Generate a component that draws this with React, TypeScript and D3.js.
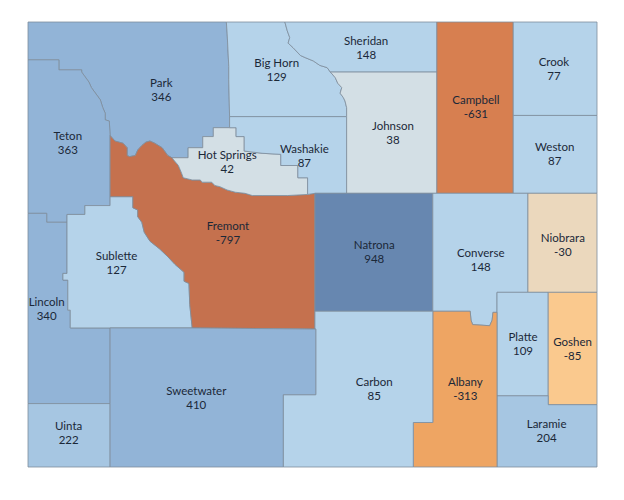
import React from 'react';
import * as d3 from 'd3';

// County names, population change values, label anchors (lon, lat)
const COUNTIES = [
  'Park', 'Teton', 'Lincoln', 'Uinta', 'Sublette', 'Fremont', 'Hot Springs', 'Washakie',
  'Big Horn', 'Sheridan', 'Johnson', 'Campbell', 'Crook', 'Weston', 'Natrona', 'Converse',
  'Niobrara', 'Platte', 'Goshen', 'Laramie', 'Albany', 'Carbon', 'Sweetwater',
];

const CHANGE = [
  346, 363, 340, 222, 127, -797, 42, 87,
  129, 148, 38, -631, 77, 87, 948, 148,
  -30, 109, -85, 204, -313, 85, 410,
];

const LABEL_AT: [number, number][] = [
  [-109.41, 44.39], [-110.56, 43.91], [-110.82, 42.42], [-110.55, 41.31], [-109.96, 42.83],
  [-108.59, 43.10], [-108.60, 43.74], [-107.65, 43.80], [-107.99, 44.57], [-106.89, 44.77],
  [-106.56, 44.00], [-105.54, 44.24], [-104.58, 44.58], [-104.57, 43.81], [-106.79, 42.93],
  [-105.48, 42.86], [-104.47, 43.00], [-104.96, 42.11], [-104.35, 42.06], [-104.67, 41.32],
  [-105.67, 41.70], [-106.79, 41.70], [-108.98, 41.62],
];

// County outlines in lon/lat, same order as COUNTIES
const OUTLINES: [number, number][][] = [
  // Park
  [[-111.05, 45.0], [-108.61, 45.0], [-108.6, 44.9], [-108.58, 44.6], [-108.58, 44.48], [-108.57, 44.15],
    [-108.57, 44.05], [-108.77, 44.05], [-108.77, 43.97], [-108.9, 43.97], [-108.9, 43.87], [-109.08, 43.87],
    [-109.08, 43.78], [-109.28, 43.78], [-109.33, 43.8], [-109.4, 43.87], [-109.49, 43.91], [-109.55, 43.93],
    [-109.6, 43.92], [-109.65, 43.89], [-109.7, 43.85], [-109.73, 43.8], [-109.8, 43.79], [-109.83, 43.8],
    [-109.83, 43.87], [-109.88, 43.91], [-109.98, 43.93], [-110.04, 43.98], [-110.05, 44.11], [-110.1, 44.12],
    [-110.1, 44.18], [-110.13, 44.23], [-110.16, 44.3], [-110.27, 44.41], [-110.3, 44.46], [-110.39, 44.55],
    [-110.39, 44.57], [-110.67, 44.57], [-110.67, 44.66], [-111.05, 44.66]],
  // Teton
  [[-111.05, 44.66], [-110.67, 44.66], [-110.67, 44.57], [-110.39, 44.57], [-110.39, 44.55], [-110.3, 44.46],
    [-110.27, 44.41], [-110.16, 44.3], [-110.13, 44.23], [-110.1, 44.18], [-110.1, 44.12], [-110.05, 44.11],
    [-110.04, 43.98], [-110.04, 43.43], [-110.04, 43.35], [-110.35, 43.35], [-110.35, 43.27], [-110.57, 43.27],
    [-110.57, 43.2], [-110.82, 43.2], [-110.82, 43.28], [-111.05, 43.28]],
  // Lincoln
  [[-111.05, 43.28], [-110.82, 43.28], [-110.82, 43.2], [-110.57, 43.2], [-110.57, 42.74], [-110.62, 42.74],
    [-110.62, 42.68], [-110.56, 42.68], [-110.56, 42.41], [-110.53, 42.41], [-110.53, 42.25], [-110.04, 42.25],
    [-110.04, 41.57], [-111.05, 41.57]],
  // Uinta
  [[-111.05, 41.57], [-110.04, 41.57], [-110.04, 41.0], [-111.05, 41.0]],
  // Sublette
  [[-110.57, 43.27], [-110.35, 43.27], [-110.35, 43.35], [-110.04, 43.35], [-110.04, 43.43], [-109.76, 43.43],
    [-109.76, 43.33], [-109.7, 43.31], [-109.7, 43.25], [-109.65, 43.2], [-109.62, 43.11], [-109.55, 43.03],
    [-109.43, 42.96], [-109.33, 42.89], [-109.24, 42.82], [-109.13, 42.75], [-109.13, 42.67], [-109.07, 42.65],
    [-109.06, 42.46], [-109.03, 42.25], [-110.04, 42.25], [-110.53, 42.25], [-110.53, 42.41], [-110.56, 42.41],
    [-110.56, 42.68], [-110.62, 42.68], [-110.62, 42.74], [-110.57, 42.74]],
  // Fremont
  [[-110.04, 43.98], [-109.98, 43.93], [-109.88, 43.91], [-109.83, 43.87], [-109.83, 43.8], [-109.8, 43.79],
    [-109.73, 43.8], [-109.7, 43.85], [-109.65, 43.89], [-109.6, 43.92], [-109.55, 43.93], [-109.49, 43.91],
    [-109.4, 43.87], [-109.33, 43.8], [-109.28, 43.78], [-109.2, 43.71], [-109.16, 43.64], [-109.14, 43.6],
    [-109.03, 43.58], [-108.93, 43.58], [-108.91, 43.56], [-108.79, 43.56], [-108.75, 43.53], [-108.69, 43.52],
    [-108.6, 43.49], [-108.5, 43.47], [-108.38, 43.46], [-108.29, 43.44], [-108.16, 43.44], [-107.86, 43.44],
    [-107.61, 43.45], [-107.52, 43.46], [-107.52, 42.24], [-109.03, 42.25], [-109.06, 42.46], [-109.07, 42.65],
    [-109.13, 42.67], [-109.13, 42.75], [-109.24, 42.82], [-109.33, 42.89], [-109.43, 42.96], [-109.55, 43.03],
    [-109.62, 43.11], [-109.65, 43.2], [-109.7, 43.25], [-109.7, 43.31], [-109.76, 43.33], [-109.76, 43.43],
    [-110.04, 43.43]],
  // Hot Springs
  [[-109.28, 43.78], [-109.08, 43.78], [-109.08, 43.87], [-108.9, 43.87], [-108.9, 43.97], [-108.77, 43.97],
    [-108.77, 44.05], [-108.57, 44.05], [-108.49, 44.05], [-108.49, 43.97], [-108.39, 43.97], [-108.39, 43.84],
    [-108.17, 43.82], [-107.94, 43.81], [-107.94, 43.71], [-107.73, 43.71], [-107.73, 43.6], [-107.61, 43.6],
    [-107.61, 43.45], [-107.86, 43.44], [-108.16, 43.44], [-108.29, 43.44], [-108.38, 43.46], [-108.5, 43.47],
    [-108.6, 43.49], [-108.69, 43.52], [-108.75, 43.53], [-108.79, 43.56], [-108.91, 43.56], [-108.93, 43.58],
    [-109.03, 43.58], [-109.14, 43.6], [-109.16, 43.64], [-109.2, 43.71]],
  // Washakie
  [[-108.57, 44.15], [-107.13, 44.15], [-107.13, 43.46], [-107.52, 43.46], [-107.61, 43.45], [-107.61, 43.6],
    [-107.73, 43.6], [-107.73, 43.71], [-107.94, 43.71], [-107.94, 43.81], [-108.17, 43.82], [-108.39, 43.84],
    [-108.39, 43.97], [-108.49, 43.97], [-108.49, 44.05], [-108.57, 44.05]],
  // Big Horn
  [[-108.61, 45.0], [-107.89, 45.0], [-107.86, 44.92], [-107.83, 44.86], [-107.85, 44.81], [-107.79, 44.77],
    [-107.7, 44.7], [-107.64, 44.68], [-107.54, 44.65], [-107.46, 44.61], [-107.37, 44.59], [-107.33, 44.55],
    [-107.27, 44.5], [-107.24, 44.45], [-107.19, 44.41], [-107.21, 44.36], [-107.17, 44.32], [-107.15, 44.29],
    [-107.13, 44.23], [-107.13, 44.15], [-108.57, 44.15], [-108.58, 44.48], [-108.58, 44.6], [-108.6, 44.9]],
  // Sheridan
  [[-107.89, 45.0], [-106.02, 45.0], [-106.02, 44.55], [-107.33, 44.55], [-107.37, 44.59], [-107.46, 44.61],
    [-107.54, 44.65], [-107.64, 44.68], [-107.7, 44.7], [-107.79, 44.77], [-107.85, 44.81], [-107.83, 44.86],
    [-107.86, 44.92]],
  // Johnson
  [[-107.33, 44.55], [-106.02, 44.55], [-106.02, 43.46], [-107.13, 43.46], [-107.13, 44.15], [-107.13, 44.23],
    [-107.15, 44.29], [-107.17, 44.32], [-107.21, 44.36], [-107.19, 44.41], [-107.24, 44.45], [-107.27, 44.5]],
  // Campbell
  [[-106.02, 45.0], [-105.08, 45.0], [-105.08, 43.46], [-106.02, 43.46]],
  // Crook
  [[-105.08, 45.0], [-104.05, 45.0], [-104.05, 44.16], [-105.08, 44.16]],
  // Weston
  [[-105.08, 44.16], [-104.05, 44.16], [-104.05, 43.46], [-105.08, 43.46]],
  // Natrona
  [[-107.52, 43.46], [-106.07, 43.46], [-106.07, 42.4], [-107.52, 42.4]],
  // Converse
  [[-106.07, 43.46], [-104.9, 43.46], [-104.9, 42.57], [-105.28, 42.57], [-105.28, 42.39], [-105.33, 42.39],
    [-105.34, 42.32], [-105.37, 42.27], [-105.58, 42.28], [-105.6, 42.32], [-105.61, 42.4], [-106.07, 42.4]],
  // Niobrara
  [[-104.9, 43.46], [-104.05, 43.46], [-104.05, 42.57], [-104.9, 42.57]],
  // Platte
  [[-105.28, 42.57], [-104.65, 42.57], [-104.65, 41.64], [-105.28, 41.64]],
  // Goshen
  [[-104.65, 42.57], [-104.05, 42.57], [-104.05, 41.56], [-104.65, 41.56]],
  // Laramie
  [[-105.28, 41.64], [-104.65, 41.64], [-104.65, 41.56], [-104.05, 41.56], [-104.05, 41.0], [-105.28, 41.0]],
  // Albany
  [[-106.07, 42.4], [-105.61, 42.4], [-105.6, 42.32], [-105.58, 42.28], [-105.37, 42.27], [-105.34, 42.32],
    [-105.33, 42.39], [-105.28, 42.39], [-105.28, 41.0], [-106.31, 41.0], [-106.31, 41.4], [-106.07, 41.4]],
  // Carbon
  [[-107.52, 42.4], [-106.07, 42.4], [-106.07, 41.4], [-106.31, 41.4], [-106.31, 41.0], [-107.91, 41.0],
    [-107.91, 41.65], [-107.51, 41.65], [-107.51, 42.24], [-107.52, 42.24]],
  // Sweetwater
  [[-110.04, 42.25], [-109.03, 42.25], [-107.52, 42.24], [-107.51, 42.24], [-107.51, 41.65], [-107.91, 41.65],
    [-107.91, 41.0], [-110.04, 41.0], [-110.04, 41.57]],
];

const BREAKS = [-700, -450, -150, -50, 0, 60, 180, 300, 600];
const PALETTE = ['#c5714e', '#d77f50', '#eea563', '#fac98e', '#ebd8bd', '#d3dfe5', '#b5d3ea', '#a6c6e2', '#92b4d7', '#6787b0'];

const WIDTH = 624;
const HEIGHT = 500;

export default function App() {
  const lon = d3.scaleLinear().domain([-111.05, -104.05]).range([28, 597]);
  const lat = d3.scaleLinear().domain([45, 41]).range([22, 467]);
  const projection = d3.geoTransform({
    point(x: number, y: number) {
      this.stream.point(lon(x), lat(y));
    },
  });
  const path = d3.geoPath(projection);
  const color = d3.scaleThreshold<number, string>().domain(BREAKS).range(PALETTE);

  const features = COUNTIES.map((name, i) => ({
    type: 'Feature' as const,
    properties: { name, value: CHANGE[i] },
    geometry: { type: 'Polygon' as const, coordinates: [[...OUTLINES[i], OUTLINES[i][0]]] },
  }));

  return (
    <svg
      width={WIDTH}
      height={HEIGHT}
      viewBox={`0 0 ${WIDTH} ${HEIGHT}`}
      style={{ position: 'absolute', left: 0, top: 0, background: '#fff' }}
    >
      <g>
        {features.map((f) => (
          <path
            key={f.properties.name}
            d={path(f as any) || ''}
            fill={color(f.properties.value)}
            stroke="#7d8d9c"
            strokeWidth={0.8}
            strokeLinejoin="round"
          />
        ))}
      </g>
      <g fontFamily="Lato, 'Noto Sans', sans-serif" fontSize={11.5} fill="#1b2838" textAnchor="middle">
        {COUNTIES.map((name, i) => {
          const [x, y] = [lon(LABEL_AT[i][0]), lat(LABEL_AT[i][1])];
          return (
            <text key={name} x={x} y={y}>
              <tspan x={x} dy={-3}>{name}</tspan>
              <tspan x={x} dy={14}>{CHANGE[i]}</tspan>
            </text>
          );
        })}
      </g>
    </svg>
  );
}
